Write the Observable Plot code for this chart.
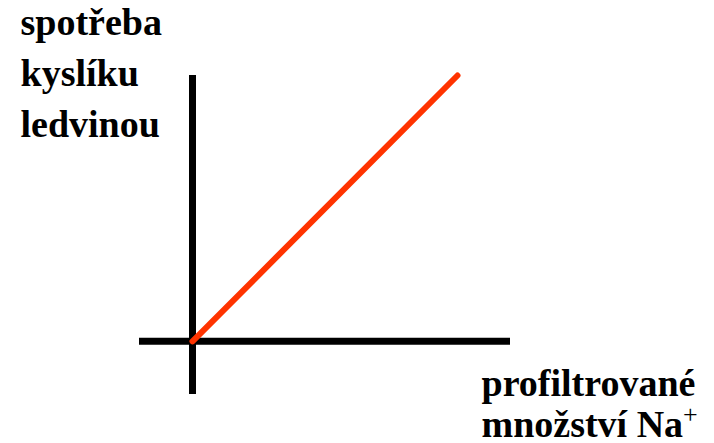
<!DOCTYPE html>
<html><head><meta charset="utf-8">
<script src="https://cdn.jsdelivr.net/npm/d3@7"></script>
<script src="https://cdn.jsdelivr.net/npm/@observablehq/plot@0.6"></script>
<style>
body{margin:0;background:#fff;font-family:"Liberation Serif",serif}
#chart svg text, #chart svg tspan{font-family:"Liberation Serif","Times New Roman",serif !important;}
</style>
</head><body>
<div id="chart"></div>
<script>
const xAxisExtent = [-1, 6];
const yAxisExtent = [-1, 5];
const relation = [{x: 0, y: 0}, {x: 5, y: 5}];
const yLabelLines = ["spotřeba", "kyslíku", "ledvinou"];
const xLabelLines = ["profiltrované", "množství Na"];
const xLabelSup = "+";

const font = "Liberation Serif";
const textStyle = {fontFamily: font, fontSize: 38, fontWeight: "bold", fill: "#000", textAnchor: "start", lineAnchor: "top"};
const chart = Plot.plot({
  width: 714, height: 443,
  marginLeft: 139, marginRight: 204, marginTop: 75, marginBottom: 49,
  x: {domain: xAxisExtent, axis: null},
  y: {domain: yAxisExtent, axis: null},
  marks: [
    Plot.ruleY([0], {x1: xAxisExtent[0], x2: xAxisExtent[1], stroke: "#000", strokeWidth: 7}),
    Plot.ruleX([0], {y1: yAxisExtent[0], y2: yAxisExtent[1], stroke: "#000", strokeWidth: 7}),
    Plot.line(relation, {x: "x", y: "y", stroke: "#ff3300", strokeWidth: 6}),
    ...yLabelLines.map((s, i) => Plot.text([s], {...textStyle, frameAnchor: "top-left", dx: -119, dy: -67 + i * 51})),
    ...xLabelLines.map((s, i) => Plot.text([s], {...textStyle, frameAnchor: "bottom-right", dx: -29, dy: -25 + i * 41,
      className: i === xLabelLines.length - 1 ? "xlast" : undefined}))
  ]
});
chart.setAttribute("font-family", "Liberation Serif, serif");
const t = chart.querySelector(".xlast text");
if (t) {
  const s = document.createElementNS("http://www.w3.org/2000/svg", "tspan");
  s.setAttribute("font-size", "26");
  s.setAttribute("font-weight", "normal");
  s.setAttribute("dy", "-14");
  s.textContent = xLabelSup;
  t.appendChild(s);
}
document.getElementById("chart").appendChild(chart);
chart.querySelectorAll("text").forEach(el => {
  el.setAttribute("font-family", "Liberation Serif");
  el.style.setProperty("font-family", "'Liberation Serif', serif", "important");
  getComputedStyle(el).fontFamily;
  try { el.getBBox(); } catch (e) {}
});
if (document.fonts && document.fonts.load) {
  document.fonts.load("bold 38px 'Liberation Serif'", "spotřeba");
  document.fonts.load("26px 'Liberation Serif'", "+");
}
</script>
</body></html>
